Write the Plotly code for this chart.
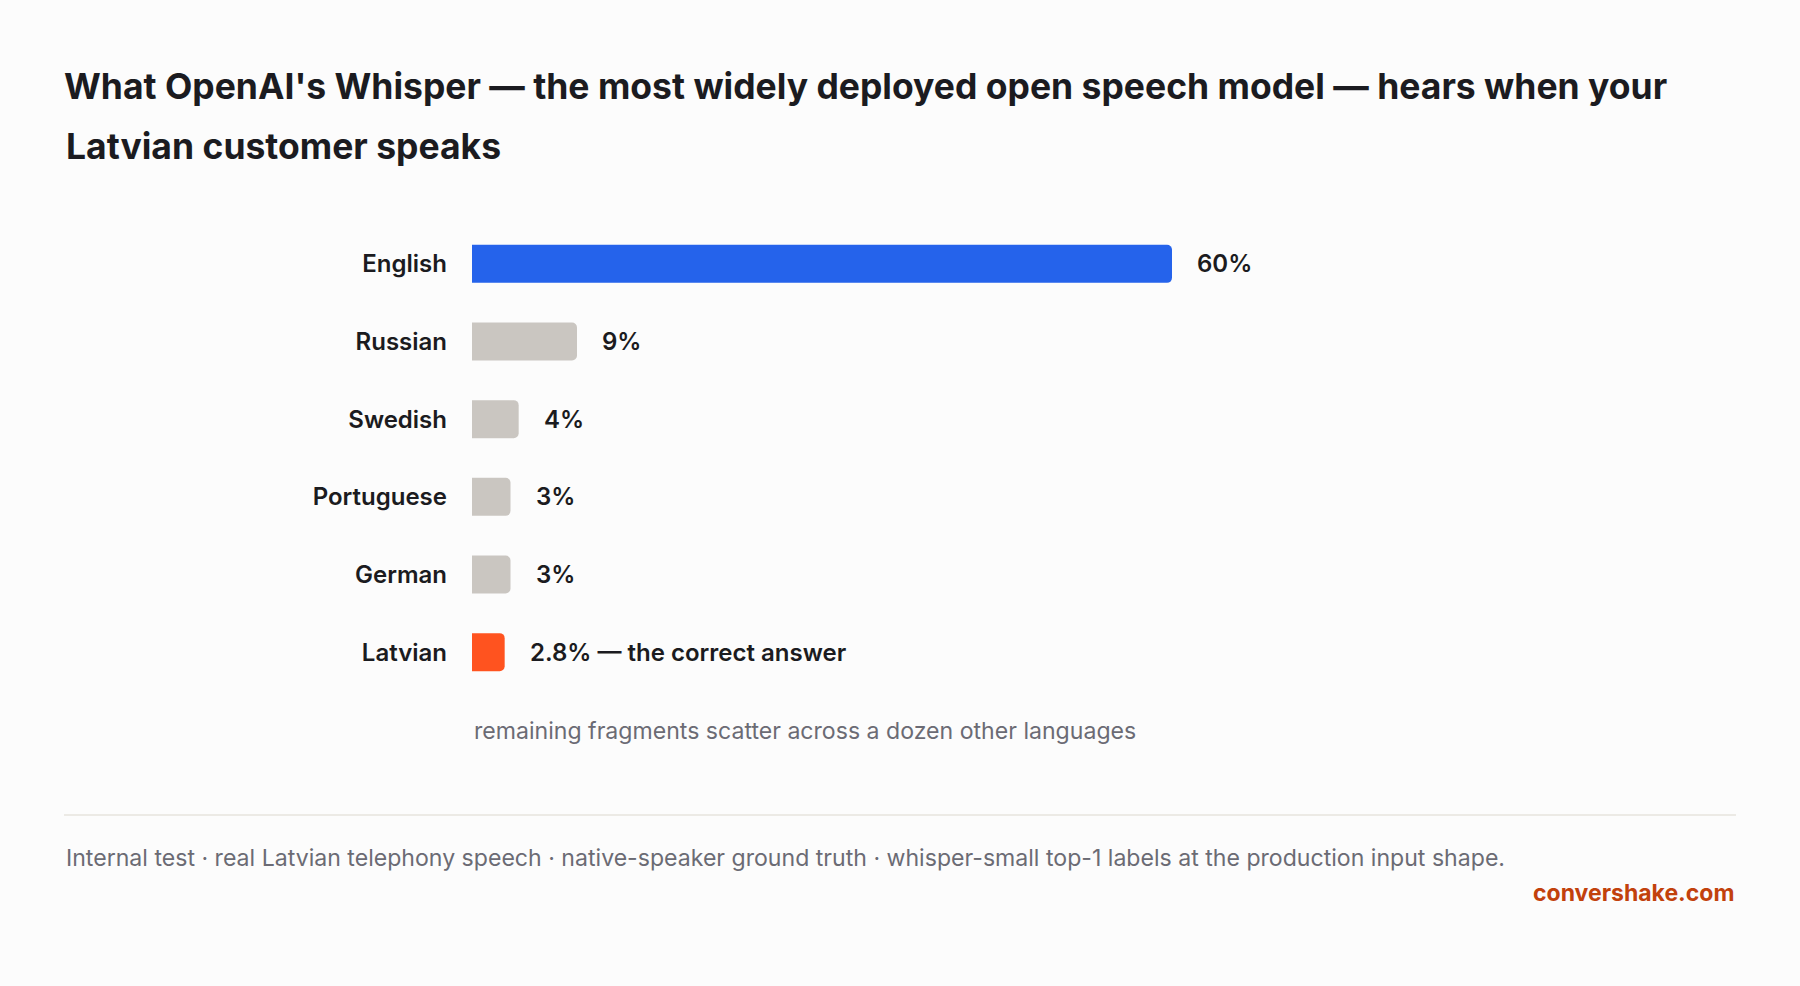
import plotly.graph_objects as go

# ---- data ----
languages = ["English", "Russian", "Swedish", "Portuguese", "German", "Latvian"]
shares = [60, 9, 4, 3.3, 3.3, 2.8]
value_labels = ["60%", "9%", "4%", "3%", "3%", "2.8% — the correct answer"]
bar_colors = ["#2563EB", "#CAC6C1", "#CAC6C1", "#CAC6C1", "#CAC6C1", "#FF531F"]

title_line1 = "What OpenAI's Whisper — the most widely deployed open speech model — hears when your"
title_line2 = "Latvian customer speaks"
note_text = "remaining fragments scatter across a dozen other languages"
footnote_text = ("Internal test · real Latvian telephony speech · native-speaker ground truth · "
                 "whisper-small top-1 labels at the production input shape.")
brand_text = "convershake.com"

# ---- layout geometry (pixels) ----
W, H = 1800, 986
L, R, T, B = 472, 64, 225, 295
plot_w = W - L - R
plot_h = H - T - B
bar_px_per_unit = 700 / 60.0
x_max = plot_w / bar_px_per_unit
BG = "#FCFCFC"


def px_x(px):
    return (px - L) / plot_w


def px_y(py):
    return (H - B - py) / plot_h


FONT = "Inter, 'Noto Sans', sans-serif"
DARK = "#1B1B20"
GREY = "#6B6B74"

fig = go.Figure()
fig.add_trace(go.Bar(
    x=shares,
    y=languages,
    orientation="h",
    marker=dict(color=bar_colors, line=dict(width=0)),
    width=0.49,
    hoverinfo="skip",
))

annotations = []
for lang, val, lab in zip(languages, shares, value_labels):
    annotations.append(dict(
        x=val, y=lang, xref="x", yref="y", text=lab, showarrow=False,
        xanchor="left", yanchor="middle", xshift=23,
        font=dict(family=FONT, size=24, color=DARK, weight=600),
    ))

annotations += [
    dict(x=px_x(64), y=px_y(146), xref="paper", yref="paper", text=title_line2,
         showarrow=False, xanchor="left", yanchor="middle",
         font=dict(family=FONT, size=35.5, color=DARK, weight=700)),
    dict(x=0, y=px_y(731), xref="paper", yref="paper", text=note_text,
         showarrow=False, xanchor="left", yanchor="middle",
         font=dict(family=FONT, size=23.1, color=GREY)),
    dict(x=px_x(64), y=px_y(858), xref="paper", yref="paper", text=footnote_text,
         showarrow=False, xanchor="left", yanchor="middle",
         font=dict(family=FONT, size=23.1, color=GREY)),
    dict(x=px_x(1736), y=px_y(893), xref="paper", yref="paper", text=brand_text,
         showarrow=False, xanchor="right", yanchor="middle",
         font=dict(family=FONT, size=23, color="#C2410C", weight=700)),
]

fig.update_layout(
    width=W, height=H,
    margin=dict(l=L, r=R, t=T, b=B, pad=0),
    paper_bgcolor=BG,
    plot_bgcolor=BG,
    showlegend=False,
    barcornerradius=5,
    title=dict(
        text=title_line1,
        x=64 / W, xanchor="left", xref="container",
        y=1 - 87 / H, yanchor="middle", yref="container",
        font=dict(family=FONT, size=35.5, color=DARK, weight=700),
    ),
    xaxis=dict(range=[0, x_max], visible=False, fixedrange=True),
    yaxis=dict(
        autorange="reversed",
        showgrid=False, zeroline=False, showline=False,
        ticks="", ticklabelstandoff=24,
        tickfont=dict(family=FONT, size=24, color=DARK, weight=600),
        fixedrange=True,
    ),
    annotations=annotations,
    shapes=[dict(
        type="line", xref="paper", yref="paper",
        x0=px_x(64), x1=px_x(1736), y0=px_y(815), y1=px_y(815),
        line=dict(color="#ECEAE5", width=2),
    )],
)

fig.write_html(
    "out.html",
    config={"displayModeBar": False},
    post_script=("document.body.style.margin='0';"
                 "document.body.style.background='" + BG + "';"
                 "document.documentElement.style.background='" + BG + "';"),
)
